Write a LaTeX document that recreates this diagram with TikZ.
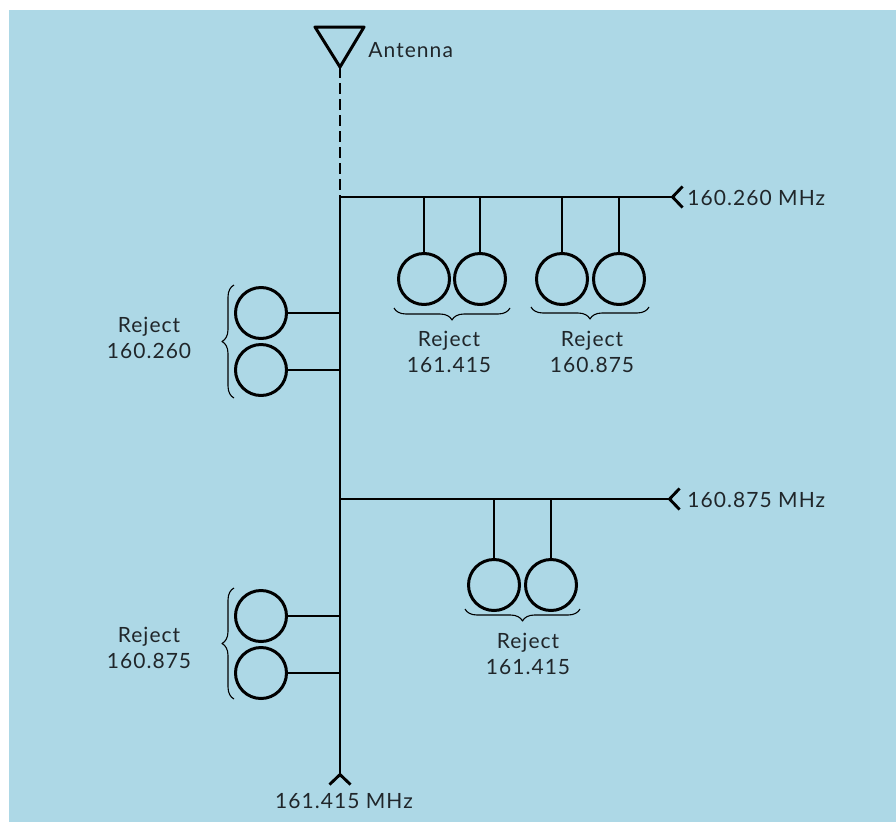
\documentclass[tikz,border=0pt]{standalone}
\usepackage{fontspec}
\setmainfont[LetterSpace=5]{Lato}
\usepackage{xcolor}
\usetikzlibrary{arrows.meta, decorations.pathreplacing}
\definecolor{panelblue}{RGB}{173,216,230}
\definecolor{labelgray}{RGB}{32,38,42}

\begin{document}
\begin{tikzpicture}[x=1pt, y=-1pt, line width=2.9pt, line join=round,
	resonator/.style={draw, circle, minimum size=51pt, inner sep=0pt, line width=3pt},
	rejectlabel/.style={align=center, inner sep=0pt, text=labelgray, font=\fontsize{21}{25.5}\selectfont},
	freqlabel/.style={inner sep=0pt, text=labelgray, font=\fontsize{21}{25}\selectfont},
	port/.style={-{Straight Barb[reversed, length=10pt, width=21pt, line width=2.9pt]}},
	groupbrace/.style={decorate, decoration={brace, amplitude=12pt, aspect=0.5}, line width=1.1pt}]

			\useasboundingbox (0,0) rectangle (896,822);
			\fill [panelblue] (9,10) rectangle (896,822);

			% antenna and main line
			\coordinate (AL) at (315,27);
			\coordinate (AR) at (364,27);
			\coordinate (AT) at (340,67);
			\coordinate (JA) at (340,197);
			\coordinate (JB) at (340,499);
			\coordinate (JE) at (340,786);
			\draw [line width=3pt] (AL) -- (AR) -- (AT) -- cycle;
			\draw [dashed, dash pattern=on 11pt off 5pt] (AT) -- (JA);
			\draw [port] (JA) -- (JE);

			% branch lines
			\coordinate (PA) at (684,197);
			\coordinate (PB) at (681,499);
			\draw [port] (JA) -- (PA);
			\draw [port] (JB) -- (PB);

			% upper branch
			\node [resonator] (T1) at (424,279) {};
			\node [resonator] (T2) [right of = T1, node distance=56pt] {};
			\node [resonator] (T3) at (562,279) {};
			\node [resonator] (T4) [right of = T3, node distance=57pt] {};
			\foreach \name in {T1, T2, T3, T4}
				\draw (\name.north) -- (\name.north |- JA);

			% lower branch
			\node [resonator] (L1) at (494,585) {};
			\node [resonator] (L2) [right of = L1, node distance=57pt] {};
			\foreach \name in {L1, L2}
				\draw (\name.north) -- (\name.north |- JB);

			% left of main line
			\node [resonator] (S1) at (261,313) {};
			\node [resonator] (S2) [below of = S1, node distance=57pt] {};
			\node [resonator] (S3) at (261,616) {};
			\node [resonator] (S4) [below of = S3, node distance=57pt] {};
			\foreach \name in {S1, S2, S3, S4}
				\draw (\name.east) -- (\name.east -| JA);

			% braces
			\coordinate (B1a) at (510,308);
			\coordinate (B1b) at (394,308);
			\coordinate (B2a) at (649,307);
			\coordinate (B2b) at (531,307);
			\coordinate (B3a) at (580,609);
			\coordinate (B3b) at (465,609);
			\coordinate (B4a) at (234,398);
			\coordinate (B4b) at (234,285);
			\coordinate (B5a) at (234,699);
			\coordinate (B5b) at (234,588);
			\draw [groupbrace] (B1a) -- (B1b);
			\draw [groupbrace] (B2a) -- (B2b);
			\draw [groupbrace] (B3a) -- (B3b);
			\draw [groupbrace] (B4a) -- (B4b);
			\draw [groupbrace] (B5a) -- (B5b);

			% labels
			\node [freqlabel, anchor=west] (AN) at (367,50) {Antenna};
			\node [freqlabel, anchor=west] (FA) at (686,198) {160.260 MHz};
			\node [freqlabel, anchor=west] (FB) at (686,500) {160.875 MHz};
			\node [freqlabel] (FC) at (344,801) {161.415 MHz};
			\node [rejectlabel] (R1) at (449,352) {Reject \\ 161.415};
			\node [rejectlabel] (R2) at (592,352) {Reject \\ 160.875};
			\node [rejectlabel] (R3) at (528,654) {Reject \\ 161.415};
			\node [rejectlabel] (R4) at (149,338) {Reject \\ 160.260};
			\node [rejectlabel] (R5) at (149,648) {Reject \\ 160.875};

\end{tikzpicture}
\end{document}
